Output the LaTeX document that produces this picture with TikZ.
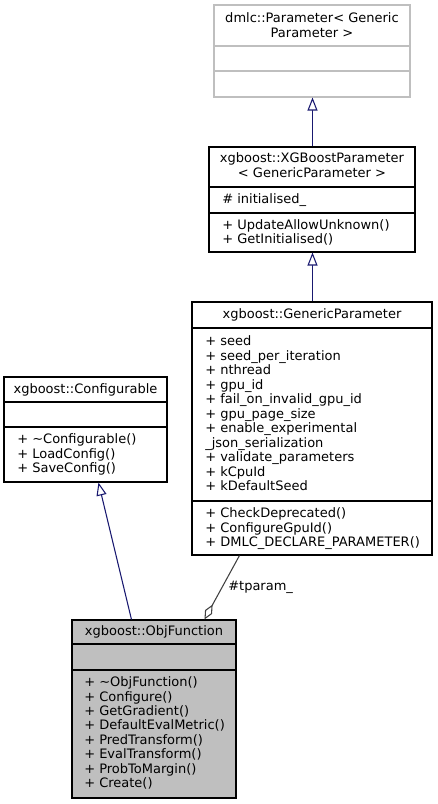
\documentclass[tikz,border=0pt]{standalone}
\usepackage{fontspec}
\setmainfont{DejaVu Sans}
\usetikzlibrary{arrows.meta,fit,calc}
\definecolor{inhblue}{HTML}{191970}
\definecolor{agggray}{HTML}{404040}
\definecolor{boxgray}{HTML}{BFBFBF}
\begin{document}
\begin{tikzpicture}[x=0.75pt,y=-0.75pt, font=\fontsize{9.75pt}{11pt}\selectfont,
  box/.style={draw=black, line width=0.8pt, inner sep=0pt},
  sepline/.style={line width=0.8pt},
  mem/.style={anchor=base west, inner sep=0pt},
  ttl/.style={anchor=base, inner sep=0pt},
  inh/.style={draw=inhblue, line width=0.8pt, -{Triangle[open, length=9.75pt, width=7.5pt, fill=white]}},
  agg/.style={draw=agggray, line width=0.8pt, -{Diamond[open, length=12.75pt, width=6pt, fill=white]}}]
\useasboundingbox (0,0) rectangle (437,804);

% dmlc::Parameter
\node[box, draw=boxgray, fit={(214,5) (410,97)}] (b1) {};
\draw[sepline, boxgray] (214,46) -- (410,46);
\draw[sepline, boxgray] (214,71) -- (410,71);
\node[ttl] (b1t1) at (312,22.6) {dmlc::Parameter< Generic};
\node[ttl] (b1t2) at (312,37.6) {Parameter >};

% xgboost::XGBoostParameter
\node[box, fit={(209,147) (415,252)}] (b2) {};
\draw[sepline] (209,187) -- (415,187);
\draw[sepline] (209,213) -- (415,213);
\node[ttl] (b2t1) at (312,162.6) {xgboost::XGBoostParameter};
\node[ttl] (b2t2) at (312,177.6) {< GenericParameter >};
\node[mem] (b2a1) at (222,203.6) {\# initialised\_};
\node[mem] (b2m1) at (222,229.6) {+ UpdateAllowUnknown()};
\node[mem] (b2m2) at (222,243.6) {+ GetInitialised()};

% xgboost::GenericParameter
\node[box, fit={(192,302) (432,555)}] (b3) {};
\draw[sepline] (192,328) -- (432,328);
\draw[sepline] (192,501) -- (432,501);
\node[ttl] (b3t) at (312,318.6) {xgboost::GenericParameter};
\node[mem] (b3a1) at (205,345.6) {+ seed};
\node[mem] (b3a2) at (205,360.1) {+ seed\_per\_iteration};
\node[mem] (b3a3) at (205,374.6) {+ nthread};
\node[mem] (b3a4) at (205,389.1) {+ gpu\_id};
\node[mem] (b3a5) at (205,403.6) {+ fail\_on\_invalid\_gpu\_id};
\node[mem] (b3a6) at (205,418.1) {+ gpu\_page\_size};
\node[mem] (b3a7) at (205,432.6) {+ enable\_experimental};
\node[mem] (b3a8) at (205,447.1) {\_json\_serialization};
\node[mem] (b3a9) at (205,461.6) {+ validate\_parameters};
\node[mem] (b3a10) at (205,476.1) {+ kCpuId};
\node[mem] (b3a11) at (205,490.6) {+ kDefaultSeed};
\node[mem] (b3m1) at (205,517.6) {+ CheckDeprecated()};
\node[mem] (b3m2) at (205,532.1) {+ ConfigureGpuId()};
\node[mem] (b3m3) at (205,546.6) {+ DMLC\_DECLARE\_PARAMETER()};

% xgboost::Configurable
\node[box, fit={(4,377) (167,482)}] (b4) {};
\draw[sepline] (4,402) -- (167,402);
\draw[sepline] (4,427) -- (167,427);
\node[ttl] (b4t) at (85.5,393.6) {xgboost::Configurable};
\node[mem] (b4m1) at (17,443.6) {+ \textasciitilde Configurable()};
\node[mem] (b4m2) at (17,458.1) {+ LoadConfig()};
\node[mem] (b4m3) at (17,472.6) {+ SaveConfig()};

% xgboost::ObjFunction
\node[box, fill=boxgray, fit={(72,620) (236,798)}] (b5) {};
\draw[sepline] (72,644) -- (236,644);
\draw[sepline] (72,670) -- (236,670);
\node[ttl] (b5t) at (154,635.6) {xgboost::ObjFunction};
\node[mem] (b5m1) at (84,686.6) {+ \textasciitilde ObjFunction()};
\node[mem] (b5m2) at (84,701.0) {+ Configure()};
\node[mem] (b5m3) at (84,715.4) {+ GetGradient()};
\node[mem] (b5m4) at (84,729.8) {+ DefaultEvalMetric()};
\node[mem] (b5m5) at (84,744.2) {+ PredTransform()};
\node[mem] (b5m6) at (84,758.6) {+ EvalTransform()};
\node[mem] (b5m7) at (84,773.0) {+ ProbToMargin()};
\node[mem] (b5m8) at (84,787.4) {+ Create()};

% connectors
\draw[inh] ([xshift=0.375pt]b2.north) -- ([xshift=0.375pt]b2.north |- b1.south);
\draw[inh] ([xshift=0.375pt]b3.north) -- ([xshift=0.375pt]b3.north |- b2.south);
\draw[inh] ($(b5.north west)+(60,0)$) -- ($(b4.south west)+(95,0)$);
\draw[agg] ($(b3.south west)+(48,0)$) -- ($(b5.north west)+(133,0)$);
\node[anchor=west, inner sep=0pt] (lbl) at (228,587) {\#tparam\_};
\end{tikzpicture}
\end{document}
